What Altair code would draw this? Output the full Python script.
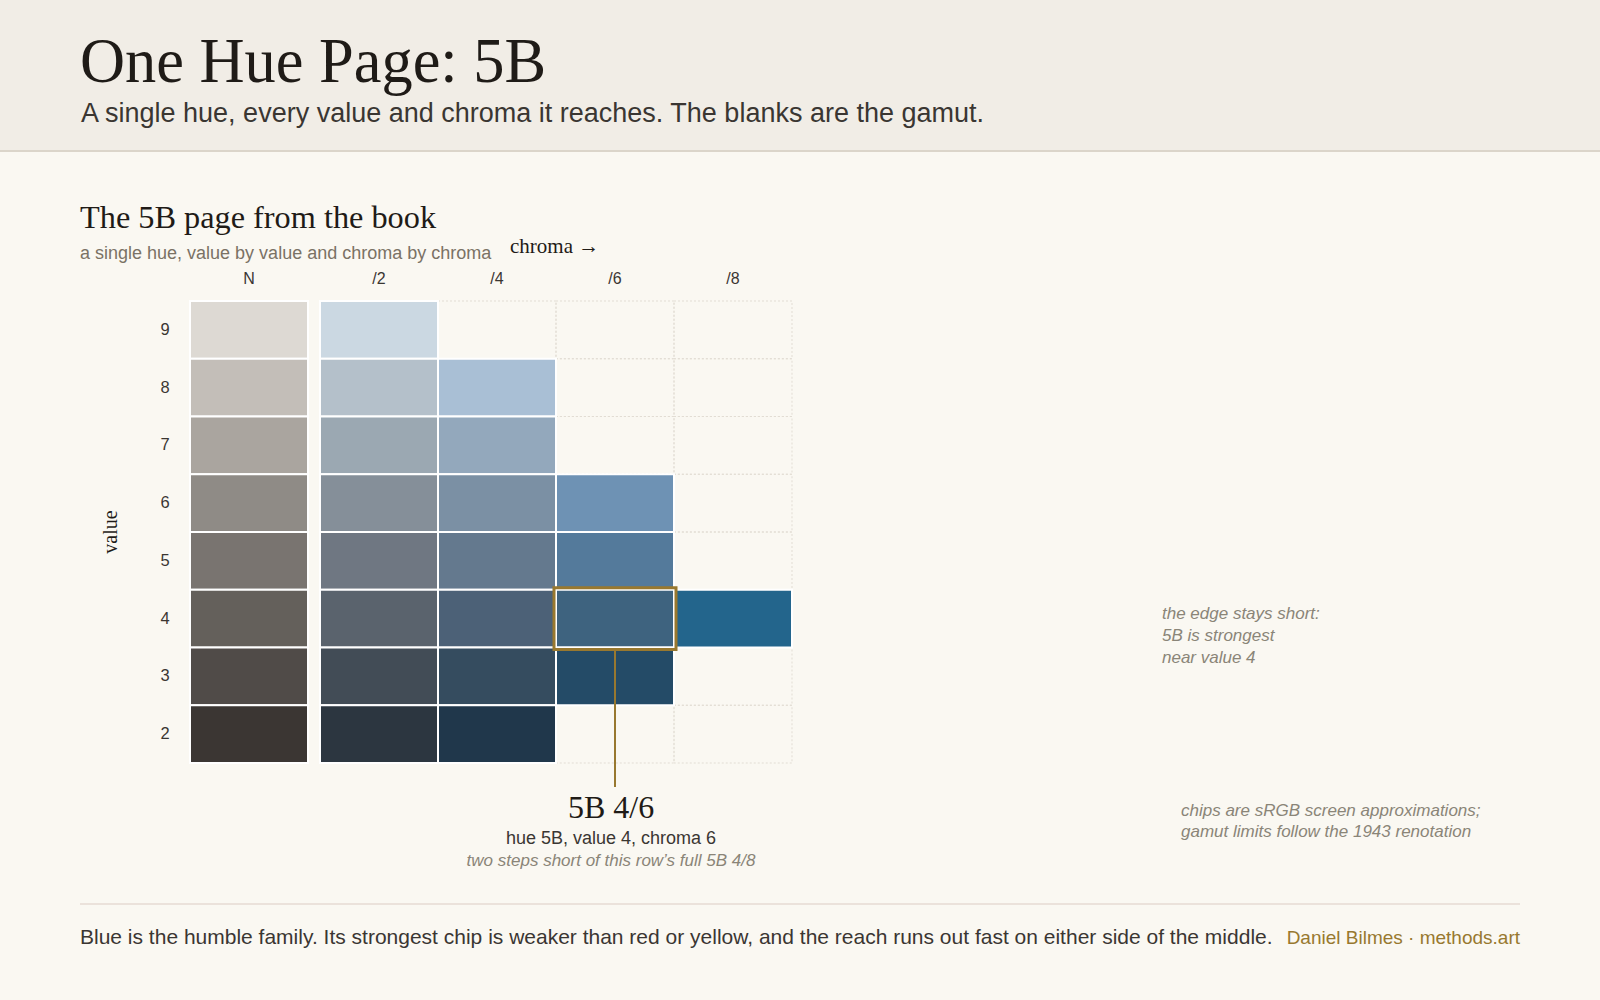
import altair as alt
import pandas as pd

# ---------------- data ----------------
VALUES = [9, 8, 7, 6, 5, 4, 3, 2]
COLUMNS = ["N", "/2", "/4", "/6", "/8"]
CHROMAS = [0, 2, 4, 6, 8]
# chip colours per column, listed for values 9..2 (None = outside the gamut)
CHIPS_N = ["#ddd9d3", "#c3beb8", "#aaa59f", "#8f8b86", "#797470", "#64605b", "#504b48", "#3b3633"]
CHIPS_2 = ["#cbd8e2", "#b4c0ca", "#9ba8b2", "#858f99", "#6f7782", "#5a636d", "#424c56", "#2c3640"]
CHIPS_4 = [None, "#a9bfd5", "#93a8bc", "#7b90a4", "#64798e", "#4c6177", "#354c5f", "#20374b"]
CHIPS_6 = [None, None, None, "#6e92b4", "#547a9b", "#3e637f", "#244b67", None]
CHIPS_8 = [None, None, None, None, None, "#23658c", None, None]
CHIPS = [CHIPS_N, CHIPS_2, CHIPS_4, CHIPS_6, CHIPS_8]

HIGHLIGHT_VALUE = 4
HIGHLIGHT_CHROMA = 6

TITLE = "One Hue Page: 5B"
SUBTITLE = "A single hue, every value and chroma it reaches. The blanks are the gamut."
PANEL_TITLE = "The 5B page from the book"
PANEL_SUB = "a single hue, value by value and chroma by chroma"
X_TITLE = "chroma \u2192"
Y_TITLE = "value"
CALLOUT_1 = "5B 4/6"
CALLOUT_2 = "hue 5B, value 4, chroma 6"
CALLOUT_3 = "two steps short of this row\u2019s full 5B 4/8"
NOTE_EDGE = ["the edge stays short:", "5B is strongest", "near value 4"]
NOTE_CHIPS = ["chips are sRGB screen approximations;", "gamut limits follow the 1943 renotation"]
FOOTER = ("Blue is the humble family. Its strongest chip is weaker than red or yellow, "
          "and the reach runs out fast on either side of the middle.")
CREDIT = "Daniel Bilmes \u00b7 methods.art"

# ---------------- styles ----------------
SERIF = "Liberation Serif"
SANS = "Liberation Sans"
BG = "#faf8f2"
HEADER_BG = "#f1ede6"
INK = "#1f1b17"
INK2 = "#3a3632"
MUTED = "#7a7265"
NOTE = "#8a8578"
GOLD = "#98782f"
N_GAP = 0.1017  # gap between neutral column and chroma columns (in column units)

X_SCALE = alt.Scale(domain=[-1 - N_GAP, 4], range=[190, 792], zero=False, nice=False)
Y_SCALE = alt.Scale(domain=[1.5, 9.5], range=[763, 301], zero=False, nice=False)


def col_span(i):
    if i == 0:
        return -1 - N_GAP, -N_GAP
    return i - 1, i


rows = []
slots = []
for ci, (name, chroma, colours) in enumerate(zip(COLUMNS, CHROMAS, CHIPS)):
    x0, x1 = col_span(ci)
    for v, c in zip(VALUES, colours):
        rec = dict(col=name, chroma=chroma, value=v, x0=x0, x1=x1, y0=v - 0.5, y1=v + 0.5)
        if ci > 0:
            slots.append(rec)
        if c is not None:
            rows.append(dict(rec, color=c))
chips = pd.DataFrame(rows)
slots = pd.DataFrame(slots)
hl = chips[(chips.value == HIGHLIGHT_VALUE) & (chips.chroma == HIGHLIGHT_CHROMA)].copy()
hl["cx"] = (hl.x0 + hl.x1) / 2

col_labels = pd.DataFrame([
    dict(label=name, cx=sum(col_span(i)) / 2) for i, name in enumerate(COLUMNS)
])
row_labels = pd.DataFrame(dict(value=VALUES, label=[str(v) for v in VALUES]))

one = pd.DataFrame({"a": [0]})


def text(t, x, y, size, font=SANS, color=INK2, align="left", style="normal", angle=0):
    m = dict(font=font, fontSize=size, color=color, align=align, baseline="alphabetic",
             fontStyle=style)
    if angle:
        m["angle"] = angle
    return alt.Chart(pd.DataFrame({"t": [t]})).mark_text(**m).encode(
        text="t:N", x=alt.value(x), y=alt.value(y))


layers = []
# header band
layers.append(alt.Chart(one).mark_rect(color=HEADER_BG).encode(
    x=alt.value(0), x2=alt.value(1600), y=alt.value(0), y2=alt.value(151)))
layers.append(alt.Chart(one).mark_rule(color="#dbd5ca", strokeWidth=2).encode(
    x=alt.value(0), x2=alt.value(1600), y=alt.value(151)))
layers.append(text(TITLE, 80, 82, 62.4, font=SERIF, color=INK))
layers.append(text(SUBTITLE, 81, 122, 27, color=INK2))

# panel titles
layers.append(text(PANEL_TITLE, 80, 228, 32.3, font=SERIF, color=INK))
layers.append(text(PANEL_SUB, 80, 259, 18, color=MUTED))
layers.append(text(X_TITLE, 510, 253, 21, font=SERIF, color=INK))
layers.append(text(Y_TITLE, 117, 532, 20, font=SERIF, color=INK, align="center", angle=270))

# empty gamut slots (dotted)
layers.append(alt.Chart(slots).mark_rect(fill="transparent", stroke="#e2ddd4", strokeWidth=1,
                                          strokeDash=[2, 2]).encode(
    x=alt.X("x0:Q", scale=X_SCALE, axis=None), x2="x1:Q",
    y=alt.Y("y1:Q", scale=Y_SCALE, axis=None), y2="y0:Q"))
# chips
layers.append(alt.Chart(chips).mark_rect(stroke="#ffffff", strokeWidth=2).encode(
    x=alt.X("x0:Q", scale=X_SCALE, axis=None), x2="x1:Q",
    y=alt.Y("y1:Q", scale=Y_SCALE, axis=None), y2="y0:Q",
    color=alt.Color("color:N", scale=None)))
# highlight box
layers.append(alt.Chart(hl).mark_rect(fill="transparent", stroke=GOLD, strokeWidth=3,
                                       xOffset=-2, x2Offset=2, yOffset=-2, y2Offset=2).encode(
    x=alt.X("x0:Q", scale=X_SCALE, axis=None), x2="x1:Q",
    y=alt.Y("y1:Q", scale=Y_SCALE, axis=None), y2="y0:Q"))
layers.append(alt.Chart(hl).mark_rule(color=GOLD, strokeWidth=2, yOffset=3.5).encode(
    x=alt.X("cx:Q", scale=X_SCALE, axis=None),
    y=alt.Y("y0:Q", scale=Y_SCALE, axis=None), y2=alt.value(787)))

# axis labels
layers.append(alt.Chart(col_labels).mark_text(font=SANS, fontSize=16, color=INK2,
                                               baseline="alphabetic").encode(
    x=alt.X("cx:Q", scale=X_SCALE, axis=None), y=alt.value(284), text="label:N"))
layers.append(alt.Chart(row_labels).mark_text(font=SANS, fontSize=16.5, color=INK2,
                                               baseline="middle").encode(
    y=alt.Y("value:Q", scale=Y_SCALE, axis=None), x=alt.value(165), text="label:N"))

# callout
layers.append(text(CALLOUT_1, 611, 818, 32, font=SERIF, color=INK, align="center"))
layers.append(text(CALLOUT_2, 611, 844, 18, color=INK2, align="center"))
layers.append(text(CALLOUT_3, 611, 866, 17, color=NOTE, align="center", style="italic"))

# side notes
for i, line in enumerate(NOTE_EDGE):
    layers.append(text(line, 1162, 619 + 22 * i, 17, color=NOTE, style="italic"))
for i, line in enumerate(NOTE_CHIPS):
    layers.append(text(line, 1181, 816 + 21 * i, 17, color=NOTE, style="italic"))

# footer
layers.append(alt.Chart(one).mark_rule(color="#ebe2db", strokeWidth=2).encode(
    x=alt.value(80), x2=alt.value(1520), y=alt.value(904)))
layers.append(text(FOOTER, 80, 944, 21, color=INK2))
layers.append(text(CREDIT, 1520, 944, 19, color=GOLD, align="right"))

chart = alt.layer(*layers).properties(
    width=1600, height=1000, padding=0,
    autosize=alt.AutoSizeParams(type="none"),
    background=BG,
).configure_view(stroke=None)

chart.save("out.html", embed_options={"renderer": "svg", "actions": False})
